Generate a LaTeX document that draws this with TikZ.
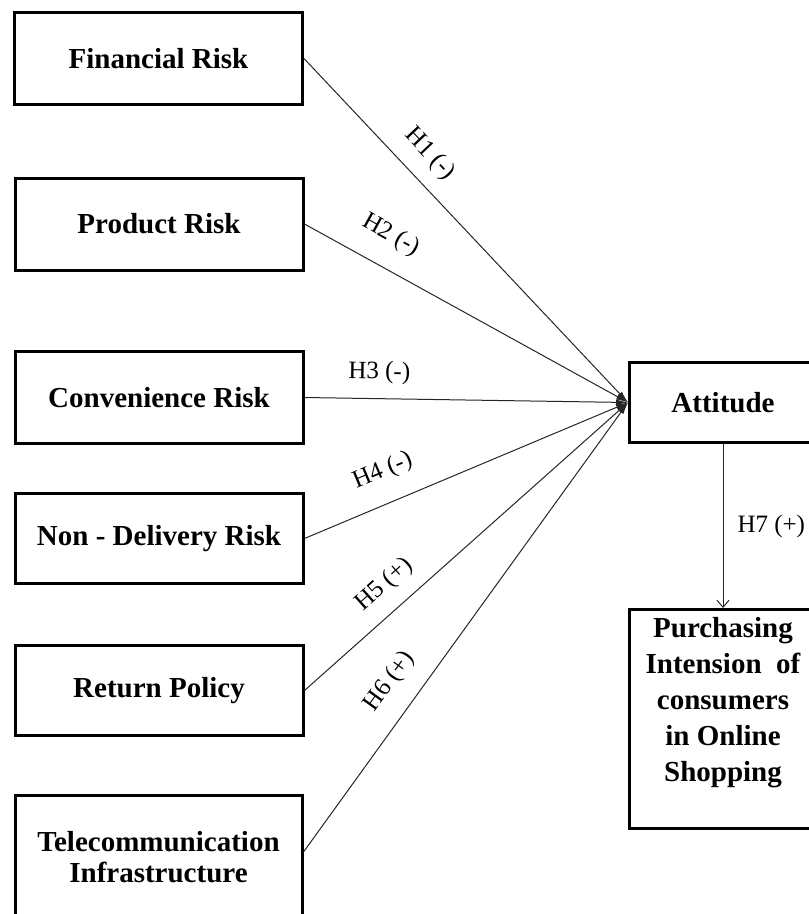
\documentclass[tikz,border=0pt]{standalone}
\usepackage{fontspec}
\setmainfont{Liberation Serif}
\usetikzlibrary{arrows.meta}

\begin{document}
\begin{tikzpicture}[x=1pt, y=-1pt,
  box/.style={draw, line width=3pt, inner sep=0pt, align=center,
    font=\bfseries\fontsize{29}{31}\selectfont},
  leftbox/.style={box, minimum width=288pt, minimum height=92pt},
  rightbox/.style={box, minimum width=187pt},
  conn/.style={draw=black!85, line width=1pt, -{Latex[length=12pt,width=6pt]}},
  hyp/.style={font=\fontsize{25}{28}\selectfont, sloped, inner sep=2pt}
]
\useasboundingbox (0,0) rectangle (809,914);
\clip (0,0) rectangle (809,914);

% antecedent constructs
\node[leftbox] (fin)  at (158.5,58.5) {Financial Risk};
\node[leftbox] (prod) at (159,224)    {Product Risk};
\node[leftbox] (conv) at (159,397.5)  {Convenience Risk};
\node[leftbox, minimum height=90pt] (nond) at (159,538.5) {Non - Delivery Risk};
\node[leftbox, minimum height=90pt] (ret)  at (159,690.5) {Return Policy};
\node[leftbox, minimum width=287pt, minimum height=123pt] (tel) at (158.5,857)
  {Telecommunication\\Infrastructure};
\coordinate (telout) at (tel.east |- 0,852);

% mediator and outcome
\node[rightbox, minimum height=80pt] (att) at (723,402.5) {Attitude};
\node[rightbox, minimum height=219pt] (pur) at (723,719) {};
\node[font=\bfseries\fontsize{29}{36}\selectfont, align=center, inner sep=0pt]
  (purtxt) at (723,703) {Purchasing\\Intension~ of\\consumers\\in Online\\Shopping};

% hypothesised paths
\draw[conn] (fin.east)  -- node[hyp, pos=0.33, above=12pt] {H1 (-)} (att.west);
\draw[conn] (prod.east) -- node[hyp, pos=0.22, above=18pt] {H2 (-)} (att.west);
\draw[conn] (conv.east) -- node[hyp, pos=0.23, above=12pt] {H3 (-)} (att.west);
\draw[conn] (nond.east) -- node[hyp, pos=0.28, above=18pt] {H4 (-)} (att.west);
\draw[conn] (ret.east)  -- node[hyp, pos=0.30, above=12pt] {H5 (+)} (att.west);
\draw[conn] (telout)    -- node[hyp, pos=0.34, above=16pt] {H6 (+)} (att.west);

\draw[draw=black!85, line width=1pt, -{Straight Barb[length=7pt,width=12pt]}]
  (att.south) -- node[font=\fontsize{25}{28}\selectfont, inner sep=2pt, right=12pt] {H7 (+)} (pur.north);
\end{tikzpicture}
\end{document}
